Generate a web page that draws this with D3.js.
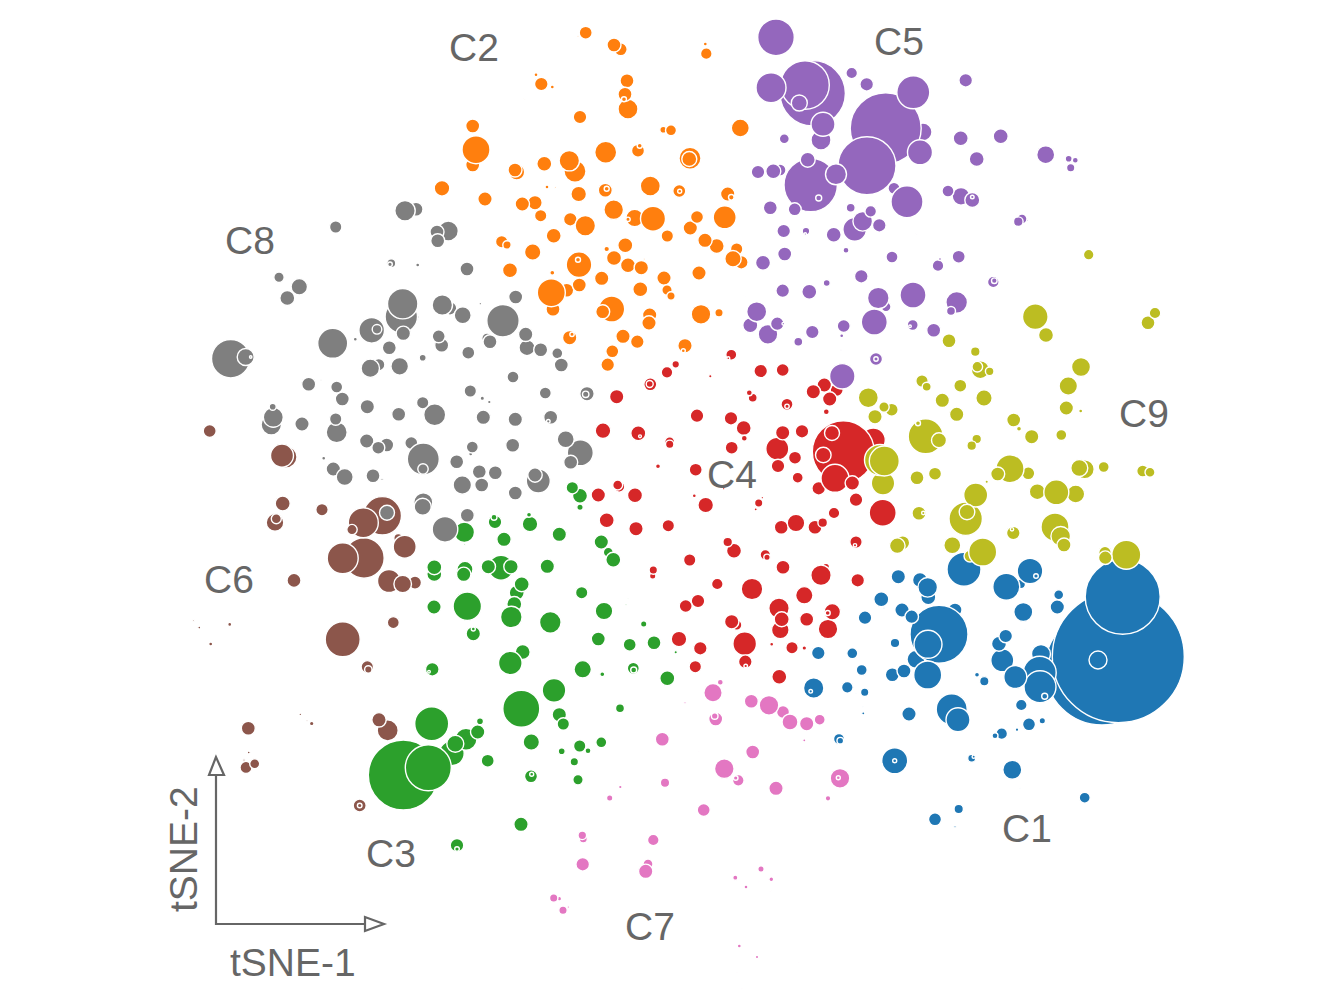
<!DOCTYPE html>
<html><head><meta charset="utf-8">
<script src="https://cdn.jsdelivr.net/npm/d3@7"></script>
<style>html,body{margin:0;padding:0;background:#fff}svg{display:block}</style>
</head><body><svg id="chart" width="1333" height="1008"></svg>
<script>
// Each point: [tSNE-1, tSNE-2 (read downward), size]
const c1=[[111.83,65.67,6.6],[110.2,66.8,5.7],[112.27,59.67,3.75],[109.8,66,.9],[96.4,56.93,1.7],[103,57.1,1.28],[103.6,57.6,.23],[100.63,58.67,1.35],[102.07,58.4,.48],[89.83,57.67,.72],[92,58,.75],[92.77,58.73,.98],[92.83,59.73,.75],[88.13,59.93,.75],[88.4,60.8,.1],[90.2,61,.72],[91.17,61.67,.68],[86.5,61.77,.68],[95.5,61,.7],[93.9,63.43,2.9],[92.8,64.43,1.4],[91.6,65.93,.9],[89.5,64.3,.48],[81.83,65.3,.68],[85.23,65.33,.55],[86.17,67,.55],[89.23,67.47,.7],[90.4,67.1,.7],[92.77,67.5,1.4],[81.37,68.8,1.02],[81.07,69.13,.18],[84.73,68.73,.58],[86.47,69.23,.42],[85.57,69.33,.06],[86.33,70.73,.07],[86.33,71.33,.16],[90.9,71.4,.72],[95.17,70.93,1.55],[95.8,71.97,1.2],[83.9,73.9,.55],[84.03,74.07,.33],[89.47,76.07,1.3],[89.47,76.07,.2],[97.17,75.83,.4],[97.37,75.67,.16],[101.23,76.97,.95],[102.03,78.83,.06],[93.5,81.93,.65],[95.87,80.9,.47],[95.5,82.67,.12],[108.47,79.77,.55],[105.87,59.47,.5],[105.73,60.7,.72],[102.33,61.2,.95],[102.53,62.93,.06],[100.57,63.6,.68],[99.9,64.37,.75],[100.23,66.03,1.15],[104.1,65.4,.95],[101.53,67.7,1.15],[103.97,67.27,1.65],[104,68.67,1.6],[104.47,69.63,.3],[97.7,67.47,.25],[98.43,68.13,.47],[102.13,70.5,.58],[102.9,72.43,.65],[104.23,72.07,.32],[101.7,72.97,.18],[100.17,73.37,.58],[99.5,73.57,.3]];
const c2=[[58.57,3.27,.65],[57.8,3.67,.1],[61.4,4.5,.7],[62.07,4.93,.65],[70.53,4.4,.2],[70.63,5.37,.58],[53.6,7.47,.2],[54.13,8.4,.68],[55.23,8.7,.2],[52.43,9.93,.08],[62.7,8.07,.7],[62.5,9.43,.7],[62.4,9.93,.25],[62.8,10.9,1],[58,11.7,.68],[47.27,12.6,.7],[47.6,14.97,1.4],[47.27,16.5,.7],[66.33,12.97,.35],[67.1,13.03,.55],[74.03,12.8,.9],[60.57,15.23,1.1],[63.8,15.07,.65],[63.97,14.57,.25],[69,15.83,1.1],[68.93,15.9,.75],[56.93,16.07,1.02],[57.5,17.13,1.1],[54.43,16.37,.75],[51.5,17,.7],[51.67,17.2,.8],[63,16.6,.07],[44.2,18.83,.78],[54.7,18.7,.2],[55.57,18.77,.1],[57.87,19.4,.78],[60.53,19.03,.7],[60.67,18.87,.25],[65.03,18.6,1],[67.93,19.1,.65],[67.97,19.13,.2],[72.77,19.4,.72],[73.13,19.73,.28],[48.5,19.9,.72],[53.5,20.27,.72],[52.23,20.4,.72],[54.07,21.57,.62],[61.37,20.97,.98],[63.47,21.8,.88],[65.3,21.87,1.25],[62.8,21.93,.22],[72.47,21.73,1.15],[69.7,21.7,.65],[69.03,22.8,.72],[57.03,21.93,.68],[58.53,22.57,1.02],[55.37,23.57,.75],[66.73,23.6,.62],[50.17,24.17,.62],[50.7,24.5,.42],[53.27,25.2,.82],[62.53,24.53,.75],[60.67,24.9,.28],[70.5,24.03,.72],[71.67,24.6,.75],[73.67,24.9,.62],[73.3,25.87,.82],[74.13,26.23,.68],[61.4,25.8,.75],[57.9,26.47,1.28],[57.8,25.97,.25],[62.8,26.53,.75],[64.13,26.77,.72],[64.47,25.9,.1],[51,27.03,.75],[55.23,27.27,.25],[60.17,27.83,.72],[66.4,27.8,.72],[69.9,27.3,.72],[64.03,28.93,.75],[66.7,29,.52],[67.1,29.6,.42],[55.13,29.27,1.4],[56.67,29.03,.7],[57.93,28.5,.7],[55.3,30.93,.7],[61.17,30.9,1.3],[60.27,31.17,.7],[70.1,31.43,.98],[71.9,31.27,.42],[64.97,31.5,.72],[64.9,32.3,.72],[56.97,33.77,.72],[57.2,33.43,.22],[62.3,33.63,.72],[63.73,34.17,.68],[68.5,34.57,.72],[68.33,35.07,.2],[61.23,35.13,.65],[60.77,36.47,.68]];
const c3=[[57.23,48.77,.62],[58,49.57,.75],[58,50.73,.32],[46.43,53.23,1.02],[46.43,54.47,.1],[49.5,52.2,.68],[49.4,51.73,.3],[53,52.4,.78],[52.9,51.47,.25],[50.4,53.93,.72],[55.93,53.43,.72],[60.13,54.2,.72],[60.83,55.23,.5],[61.33,55.97,.75],[43.43,57.4,.75],[43.43,56.73,.75],[46.5,56.93,.8],[46.37,57.43,.72],[48.83,56.67,.72],[50.1,56.77,1.25],[51.1,56.67,.72],[54.73,56.63,.72],[58.17,59.27,.62],[52.17,58.43,.75],[51.67,59.27,.75],[51.43,60.4,.75],[51.13,61.7,1.08],[46.73,60.63,1.42],[43.4,60.7,.72],[55.03,62.23,1.08],[60.4,61.1,.88],[62.6,60.43,.1],[62.77,59.93,.07],[64.37,62.4,.32],[59.83,63.9,.7],[62.97,64.47,.65],[65.4,64.27,.7],[67.57,65.23,.17],[60.23,67.43,.25],[63.33,66.83,.6],[63.37,67,.3],[58.27,66.93,.87],[66.73,67.83,.75],[47.33,63.37,.72],[47.33,62.9,.2],[52.27,65.2,.75],[51.03,66.3,1.18],[43.23,66.93,.68],[42.9,67.17,.13],[55.4,69.03,1.18],[52.13,70.87,1.85],[43.17,72.37,1.7],[48,72.13,.35],[47.77,73.2,.72],[46.6,73.93,1.1],[45.53,74.37,.85],[45.17,75.33,1.25],[40.33,77.5,3.5],[42.83,76.77,2.3],[48.77,76.07,.65],[55.93,71.47,.72],[56.33,72.4,.62],[62,70.83,.45],[53.13,74.2,.82],[57.97,74.6,.62],[58.8,75.07,.3],[60.13,74.23,.55],[56.17,75.13,.35],[57.43,76.17,.42],[53.1,77.63,.65],[53.17,77.43,.2],[57.8,77.97,.52],[52.1,82.43,.72],[45.7,84.53,.68],[45.7,84.9,.23],[46.53,71,.08],[47.1,71.3,.06]];
const c4=[[73.13,35.47,.55],[72.83,35.83,.15],[66.7,37.23,.58],[67.57,36.43,.38],[71.03,37.63,.17],[76.07,37.1,.68],[78.27,37,.65],[65.03,38.43,.65],[64.97,38.4,.35],[61.67,39.67,.72],[74.93,39.27,.3],[75.27,39.77,.45],[78.7,40.43,.6],[78.7,40.63,.22],[82.43,38.5,.72],[81.33,39.17,.72],[83.67,39,.65],[82.97,39.9,.72],[82.63,41.17,.3],[69.7,41.57,.68],[73.1,41.83,.68],[74.37,42.8,.75],[74.43,43.83,.3],[60.3,43.07,.78],[63.83,43.33,.75],[64,43.63,.14],[66.97,44.17,.5],[66.97,44.43,.42],[73.17,44.77,.65],[78.27,43.27,.72],[80.2,43.13,.68],[77.73,44.87,1.15],[79.5,45.77,.65],[77.8,46.6,.68],[79.77,47.77,.55],[84.33,45.17,3.1],[87.33,44,1.2],[83.2,43.3,.75],[82.33,45.5,.78],[83.5,47.83,1.4],[85.23,48.3,.72],[81.87,48.83,.68],[85.6,49.97,.68],[88.27,51.27,1.35],[69.57,46.97,.65],[65.8,46.63,.25],[61.77,48.5,.5],[61.93,48.67,.55],[59.83,49.5,.72],[63.5,49.53,.75],[69.43,49.57,.2],[72.37,48.87,.13],[70.57,50.5,.78],[75.87,50.3,.42],[76.23,49.77,.13],[75.57,50.93,.16],[60.67,52.03,.75],[63.6,52.87,.72],[66.83,52.57,.62],[78.13,52.73,.7],[79.6,52.3,.88],[81.5,52.73,.7],[82.27,52.27,.48],[83.4,51.3,.58],[85.6,54.2,.62],[85.5,54.53,.17],[72.77,54.2,.48],[73.4,55.07,.75],[76.53,55.47,.52],[76.7,55.73,.32],[68.97,56,.62],[78.3,56.73,.7],[65.33,57,.42],[65.27,57.6,.32],[71.73,58.4,.58],[82.1,57.53,1.02],[82.6,56.67,.35],[85.77,58.03,.68],[75.2,58.9,1.08],[69.8,60.1,.68],[68.57,60.6,.65],[80.43,59.53,.87],[77.9,60.83,1.02],[78.17,61.93,.75],[78.03,63,.88],[83.23,61.17,.82],[82.77,61.3,.25],[80.67,61.93,.7],[82.8,62.9,.98],[73.17,62.17,.72],[73.67,62.5,.52],[74.47,64.37,1.18],[77.17,64.43,.2],[79.2,64.77,.62],[80.43,64.8,.23],[67.9,63.9,.78],[70.03,64.83,.68],[69.53,66.67,.62],[74.53,66.17,.68],[74.57,66.6,.18],[77.93,67.67,.75]];
const c5=[[77.6,3.73,1.83],[81.27,9.33,3.27],[80.5,8.5,2.43],[77.1,8.77,1.5],[79.93,10.3,.8],[82.3,12.43,1.2],[82.1,14,1],[85.17,7.3,.58],[86.67,8.43,.68],[91.33,9.23,1.65],[88.57,12.83,3.55],[92.3,13.2,.9],[86.7,16.57,2.9],[92,15.23,1.25],[78.43,13.87,.5],[96.57,8.03,.68],[96.07,13.83,.75],[100.07,13.63,.75],[97.67,15.9,.75],[104.57,15.47,.9],[106.87,15.87,.35],[107.53,16.03,.3],[107.07,16.77,.42],[81.07,18.5,2.67],[80.77,15.97,.75],[83.6,17.43,1.05],[75.8,17.2,.68],[77.33,17.13,.75],[78,17,.6],[81.87,19.8,.3],[77.03,20.77,.7],[79.47,20.93,.65],[89.4,18.83,.6],[90.7,20.17,1.6],[94.8,19.1,.6],[96.1,19.63,.88],[97.23,20,.75],[97.23,19.7,.18],[85.07,20.77,.45],[87.07,21.13,.58],[86.27,22.13,.98],[85.47,22.93,1.18],[87.93,22.53,.68],[78.37,23.1,.68],[80.6,23.1,.38],[80.53,23.4,.12],[83.37,23.47,.75],[84.6,25.03,.3],[78.47,25.4,.7],[76.3,26.27,.75],[89.2,25.7,.6],[93.8,26.57,.58],[94,25.9,.15],[95.87,25.67,.65],[99.33,28.2,.58],[99.43,28.07,.28],[86.13,27.63,.68],[82.67,28.3,.35],[78.27,29.07,.68],[80.93,29.17,.75],[87.83,29.8,1.08],[88.6,30.67,.5],[91.3,29.5,1.3],[95.67,30.23,1.08],[95.1,31.1,.45],[87.43,32.2,1.3],[84.37,32.6,.65],[84.17,33.57,.2],[91.27,32.5,.55],[91,32.63,.13],[93.37,33.03,.7],[81.23,33.2,.68],[75.67,31.17,1],[75.03,32.53,.75],[76.8,33.43,.98],[77.73,32.37,.68],[78.33,32.37,.13],[79.83,34.17,.45],[84.23,37.63,1.27],[87.6,35.9,.65],[87.6,35.9,.22],[84.1,35,.09],[91.63,23.43,.08],[101.83,22.17,.48],[102.2,21.9,.5],[102.77,22.07,.1],[74.43,29.6,.08]];
const c6=[[20.97,43.1,.65],[28.2,45.56,1.15],[28.6,45.7,1.1],[28.27,50.35,.75],[32.2,50.97,.62],[27.5,52.24,.88],[27.63,51.87,.5],[38.23,51.58,1.92],[36.33,52.27,1.5],[35.2,52.96,.52],[39.83,53.8,.45],[40.47,54.67,1.15],[36.4,55.8,2.02],[34.27,55.83,1.55],[38.9,58.1,1.15],[40.27,58.4,.88],[41.5,58.26,.65],[29.4,58.04,.7],[39.33,62.26,.6],[34.27,63.93,1.75],[36.73,66.68,.62],[36.83,66.94,.37],[19.93,62.76,.15],[19.37,62.04,.1],[22.97,62.44,.2],[21.07,64.4,.2],[24.83,72.82,.7],[37.9,71.98,.72],[38.77,73.04,1.05],[31.17,72.35,.23],[30.03,71.44,.13],[30.7,72.02,.1],[24.87,75.25,.15],[24.4,76,.12],[24.6,76.74,.6],[25.47,76.38,.5],[35.97,80.55,.65],[35.97,80.55,.23]];
const c7=[[71.3,69.27,.92],[72.03,68.23,.3],[68.5,70.27,.12],[75.13,70.13,.7],[76.9,70.53,.98],[78.3,71.2,.65],[79,72.2,.8],[80.67,72.37,.72],[81.97,71.97,.55],[80.43,74.03,.16],[71.57,71.9,.7],[71.47,71.6,.33],[66.23,73.93,.7],[75.27,75.2,.7],[69.83,75.17,.08],[72.43,76.87,.98],[73.83,78.03,.58],[73.57,77.8,.23],[84,77.83,.98],[83.83,77.77,.2],[77.6,78.83,.72],[66.5,78.27,.47],[62.03,78.7,.18],[60.97,79.8,.32],[82.8,79.83,.28],[70.37,81,.65],[58.23,83.53,.43],[58.33,83.9,.4],[65.33,84,.58],[58.27,86.43,.68],[64.8,86.4,.5],[64.57,87.13,.72],[76.1,86.9,.32],[73.53,87.77,.26],[77.13,87.93,.24],[74.6,88.7,.2],[75.9,88.23,.08],[77.07,89.13,.08],[55.37,89.8,.42],[55.93,89.87,.23],[56.3,91.03,.42],[56.83,90.7,.13],[73.93,94.6,.2],[75.7,95.7,.17],[79.83,96.27,.08],[73.67,97.23,.06],[74.23,98.93,.07]];
const c8=[[40.5,21.07,1.02],[41.6,20.93,.7],[33.57,22.7,.62],[44.83,23.1,1],[43.7,23.2,.7],[43.77,24.07,.7],[46.7,26.9,.7],[39.13,26.33,.45],[39,26.43,.23],[41.77,26.5,.2],[27.9,27.73,.52],[29.93,28.67,.82],[28.73,29.8,.75],[51.57,29.7,.7],[40.27,30.37,1.52],[40.13,31.67,1.62],[41.4,31.7,.5],[40.33,33.33,.72],[44.23,30.5,1.02],[45,30.83,.68],[46.27,31.53,.85],[50.3,32.07,1.62],[48.03,30.37,.13],[37.17,33.03,1.28],[37.7,32.93,.48],[33.27,34.33,1.5],[35.53,33.93,.2],[43.87,33.63,.65],[44.17,34.53,.7],[38.93,34.77,.7],[42.27,35.77,.35],[46.83,35.27,.65],[48.7,33.83,.52],[49,34.17,.7],[52.57,33.43,.72],[52.7,34.77,.8],[54.07,34.97,.7],[55.73,35.33,.55],[56.13,36.5,.7],[23.07,35.87,1.92],[24.57,35.7,.85],[25.07,35.7,.12],[37.87,36.47,.62],[37.03,36.83,.92],[39.97,36.63,.88],[51.3,37.7,.6],[30.87,38.43,.7],[32.1,38,.1],[33.67,38.7,.6],[34.23,39.9,.7],[47.03,39.1,.62],[48.23,39.83,.22],[48.93,40.2,.18],[54.53,39.3,.6],[58.7,39.37,.72],[58.57,39.43,.32],[27.27,40.67,.35],[27.33,41.73,1],[27.13,42.47,1.02],[30.2,42.4,.72],[36.73,40.67,.72],[42.27,40.27,.62],[43.47,41.47,1.1],[39.87,41.43,.7],[48.33,41.73,.72],[51.53,41.93,.72],[55.07,41.73,.7],[54.83,42.13,.18],[33.57,41.9,.62],[33.67,43.23,1.05],[36.67,44.1,.72],[38.67,44.5,.7],[37.83,44.77,.65],[41.13,44.3,.65],[42.33,45.9,1.6],[42.3,46.9,.52],[47.23,44.7,.6],[47.07,45.4,.2],[51.27,44.53,.7],[56.57,43.93,.85],[58.03,45.27,1.3],[57.07,46.23,.7],[32.37,45.83,.2],[33.33,46.9,.72],[34.47,47.7,.85],[37.3,47.57,.7],[38.2,47.93,.12],[45.67,46.17,.7],[47.93,47.17,.7],[49.53,47.27,.7],[48.17,48.5,.7],[46.23,48.5,.92],[53.5,47.5,.72],[53.83,48.1,1.2],[51.53,49.3,.7],[42.33,50.23,.95],[42.27,50.67,.85],[46.73,51.53,.7],[44.5,52.93,1.28],[38.7,51.27,.75]];
const c9=[[108.87,25.47,.53],[103.53,31.67,1.28],[104.6,33.5,.75],[115.5,31.3,.58],[114.8,32.27,.7],[94.9,34.07,.7],[97.53,35.17,.48],[98.03,36.97,.9],[97.73,36.67,.53],[98.97,37.13,.43],[108.1,36.7,.95],[106.83,38.6,.92],[92.2,38.1,.62],[92.67,38.67,.45],[96.03,38.57,.65],[94.23,40.03,.72],[98.4,39.8,.82],[86.83,39.77,1],[88.4,40.7,.52],[89.17,40.97,.65],[87.5,41.67,.72],[95.67,41.43,.72],[106.63,40.8,.72],[108.07,41.1,.2],[101.37,42,.7],[101.9,42.87,.25],[103.17,43.67,.72],[106.13,43.5,.55],[92.57,43.63,1.75],[93.9,44.03,.75],[91.8,42.33,.25],[97.67,43.9,.48],[97.17,44.57,.48],[98.27,43.27,.06],[88,46,1.55],[88.43,46.1,1.5],[88.3,48.33,1.17],[91.7,47.77,.7],[93.5,47.37,.65],[101,46.87,1.4],[99.77,47.4,.7],[102.83,47.33,.65],[98.67,48.17,.17],[107.93,46.8,.85],[108.47,46.93,.95],[110.37,46.7,.55],[114.27,47.1,.6],[115,47.23,.5],[103.73,49.17,.8],[105.63,49.23,1.25],[107.57,49.4,.9],[97.57,49.5,1.2],[96.57,51.87,1.67],[96.7,51.2,.78],[91.9,51.33,.7],[92.33,51.3,.17],[105.5,52.7,1.4],[106.07,53.63,.98],[106.4,54.5,.7],[101.33,53.3,.68],[101.2,52.93,.17],[90.27,54.27,.7],[89.73,54.57,.78],[95.23,54.53,.85],[98.27,55.2,1.4],[97,55.6,.6],[110.5,55.27,.63],[110.53,55.77,.68],[112.63,55.47,1.45]];
// tSNE-1 values of the bubbles that sit underneath their neighbours
const under1=[110.2,95.5,91.6,104.1,92.83,92,102.07];
const under2=[56.67,55.3,47.27,53.5,73.67,74.13,63.47,57.03,62.07,66.33];
const under3=[51.67,51.43,60.83,52.27,55.93,45.17];
const under4=[87.33,81.87,83.67,78.13,73.67,65.27,82.6];
const under5=[92.3,82.1,89.4,88.6,75.03,78];
const under6=[28.6,41.5,39.83];
const under7=[64.8,58.33,55.93,78.3];
const under8=[41.4,41.6,45,37.87,41.13,48.7,55.73,33.33,47.07];
const under9=[88.3,103.73,107.57,102.83,97,90.27,110.5];
const clusterNames=["C1","C2","C3","C4","C5","C6","C7","C8","C9"];
const clusterSeries=[c1,c2,c3,c4,c5,c6,c7,c8,c9];
const clusterUnder=[under1,under2,under3,under4,under5,under6,under7,under8,under9];
const clusterColors=["#1f77b4","#ff7f0e","#2ca02c","#d62728","#9467bd","#8c564b","#e377c2","#7f7f7f","#bcbd22"];
const labelX=[100.2,44.9,36.6,70.7,87.4,20.4,62.5,22.5,111.9];
const labelY=[84.2,6.1,86.7,48.8,5.5,59.3,94,25.4,42.7];
const axisNames=["tSNE-1","tSNE-2"];

const svg=d3.select("#chart");
const x=d3.scaleLinear().domain([0,133.3]).range([0,1333]);
const y=d3.scaleLinear().domain([0,100.8]).range([0,1008]);
const size=d3.scaleLinear().domain([0,10]).range([0,100]);
const ink="#666666";

clusterSeries.forEach((pts,i)=>{
  const under=new Set(clusterUnder[i]);
  const sorted=pts.slice().sort((a,b)=>
    d3.descending(under.has(a[0]),under.has(b[0]))||d3.descending(a[2],b[2]));
  svg.append("g").selectAll("circle").data(sorted).join("circle")
    .attr("cx",d=>x(d[0])).attr("cy",d=>y(d[1])).attr("r",d=>size(d[2]))
    .attr("fill",clusterColors[i]).attr("stroke","#fff").attr("stroke-width",1.4);
});

const font='"Liberation Sans",Arial,sans-serif';
svg.append("g").selectAll("text").data(clusterNames).join("text")
  .attr("x",(d,i)=>x(labelX[i])).attr("y",(d,i)=>y(labelY[i]))
  .attr("font-family",font).attr("font-size",39).attr("fill",ink).text(d=>d);

const ax=svg.append("g").attr("fill","none").attr("stroke",ink).attr("stroke-width",2.2);
const line=d3.line();
ax.append("path").attr("d",line([[216,775],[216,924],[365,924]]));
ax.append("path").attr("d",line([[216,757],[209,775],[224,775]])+"Z");
ax.append("path").attr("d",line([[384,924],[365,917],[365,931]])+"Z");
svg.append("text").attr("x",230).attr("y",976).attr("font-family",font).attr("font-size",39).attr("fill",ink).text(axisNames[0]);
svg.append("text").attr("transform","translate(197,912) rotate(-90)").attr("font-family",font).attr("font-size",39).attr("fill",ink).text(axisNames[1]);
</script></body></html>
